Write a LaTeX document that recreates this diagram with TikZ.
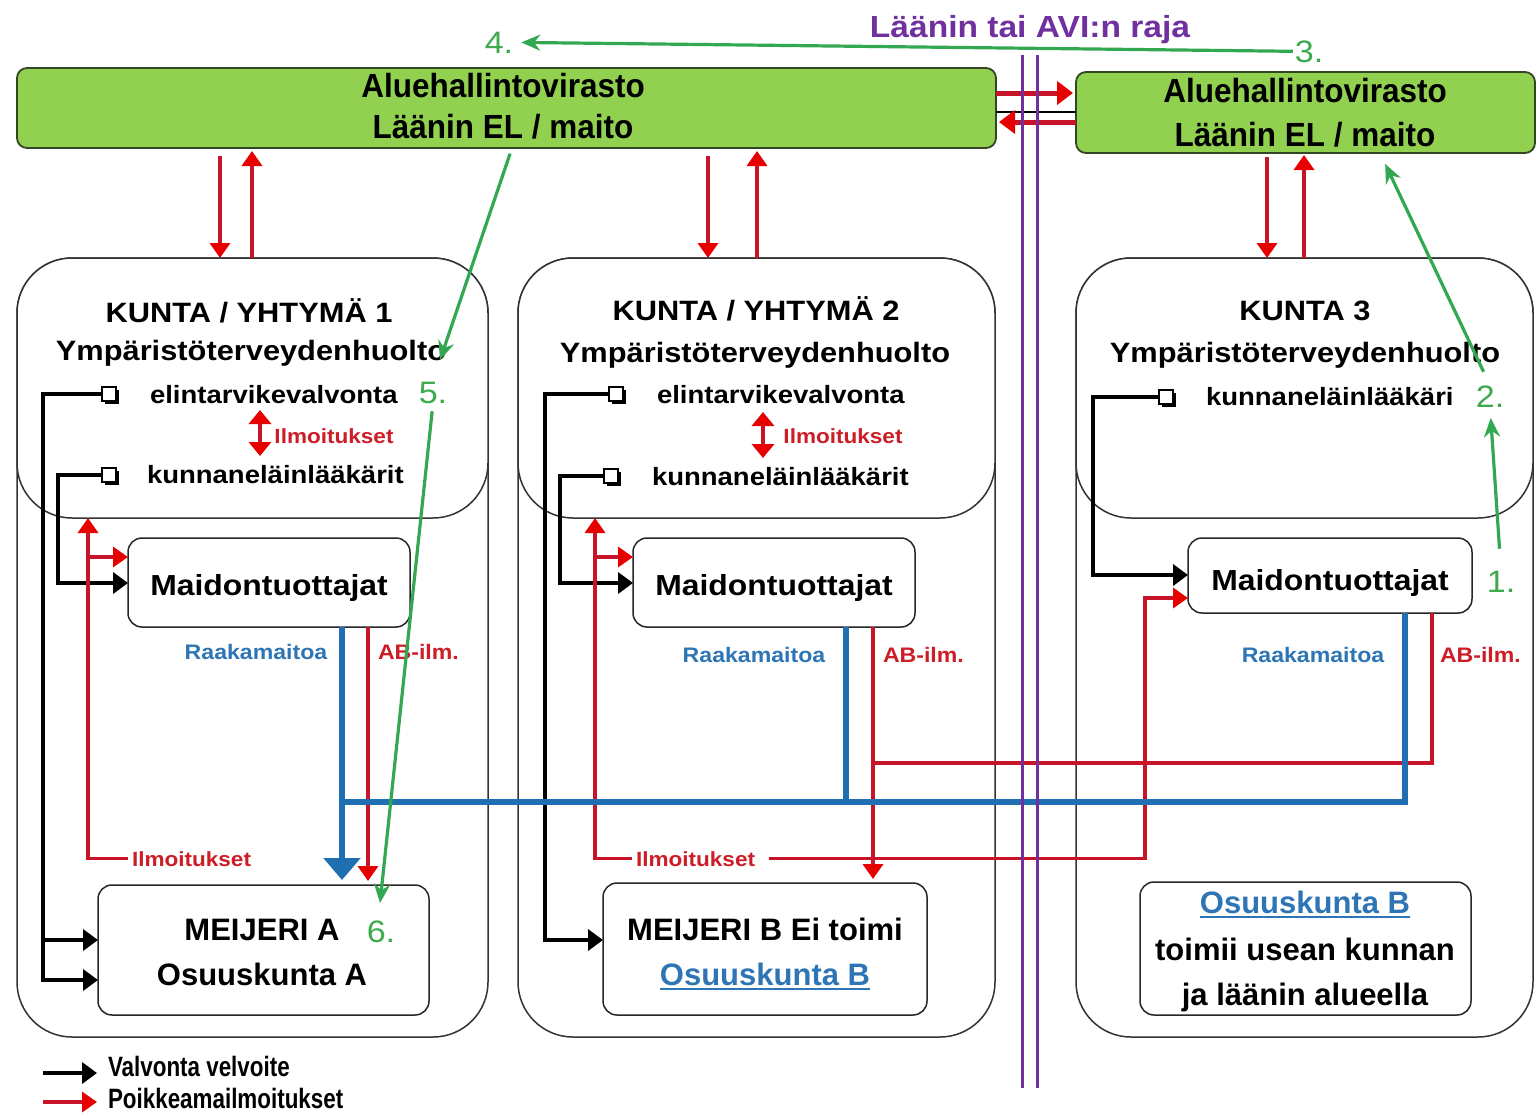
\documentclass[tikz,border=0pt]{standalone}
\usepackage{fontspec}
\setmainfont{Liberation Sans}
\newfontfamily\fW{Liberation Sans}[FakeStretch=1.1]
\newfontfamily\fN{Liberation Sans}[FakeStretch=0.94]
\newfontfamily\fL{Liberation Sans}[FakeStretch=0.8]
\newfontfamily\fM{Liberation Sans}
\usetikzlibrary{arrows.meta,shadows,calc}
\definecolor{gfill}{RGB}{146,208,80}
\definecolor{gdraw}{RGB}{50,70,35}
\definecolor{rline}{RGB}{200,20,40}
\definecolor{rhead}{RGB}{230,0,0}
\definecolor{bline}{RGB}{31,111,178}
\definecolor{grn}{RGB}{51,168,82}
\definecolor{gtxt}{RGB}{61,170,78}
\definecolor{purp}{RGB}{112,48,160}
\definecolor{rtxt}{RGB}{205,30,40}
\definecolor{btxt}{RGB}{46,117,182}
\newcommand\fsz[1]{\fontsize{#1}{#1}\selectfont}
\newcommand\myul[1]{\leavevmode\setbox0\hbox{#1}\rlap{\rule[-5pt]{\wd0}{2pt}}\box0}
\tikzset{
  gbox/.style={draw=gdraw, fill=gfill, line width=1.8pt, rounded corners=10pt, inner sep=0, outer sep=0},
  kbox/.style={draw=black!80, fill=white, line width=1.5pt, rounded corners=55pt, inner sep=0, outer sep=0},
  ibox/.style={draw=black!85, fill=white, line width=1.5pt, rounded corners=14pt, inner sep=0, outer sep=0},
  chk/.style={draw=black, fill=white, line width=1.6pt, minimum size=14pt, inner sep=0, outer sep=0,
    drop shadow={shadow xshift=3pt, shadow yshift=-3pt, fill=black, opacity=1}},
  txt/.style={inner sep=0, outer sep=0, anchor=base},
  tW/.style={txt, font={\fW\bfseries\fsz{#1}}},
  tN/.style={txt, font={\fN\bfseries\fsz{#1}}},
  tM/.style={txt, font={\fM\bfseries\fsz{#1}}},
  tR/.style={txt, font={\fW\fsz{#1}}},
  tL/.style={txt, font={\fL\bfseries\fsz{#1}}},
  blk/.style={draw=black, line width=4pt, -{Triangle[length=15pt,width=21pt]}},
  rd/.style={draw=rline, line width=3.5pt, -{Triangle[length=15pt,width=20pt,color=rhead]}},
  rdd/.style={draw=rline, line width=4pt, {Triangle[length=14pt,width=22pt,color=rhead]}-{Triangle[length=14pt,width=22pt,color=rhead]}},
  rdw/.style={draw=rline, line width=5pt, -{Triangle[length=16pt,width=23pt,color=rhead]}},
  rdl/.style={draw=rline, line width=3.5pt},
  bl/.style={draw=bline, line width=5.5pt},
  gr/.style={draw=grn, line width=3.2pt, -{Stealth[length=19pt,width=16pt]}},
  pl/.style={draw=purp, line width=3pt}
}
\begin{document}
\begin{tikzpicture}[x=1pt,y=-1pt]
\useasboundingbox (0,0) rectangle (1539,1117);
\fill[white] (0,0) rectangle (1539,1117);

% regional offices
\node[gbox, minimum width=979pt, minimum height=80pt] (avi1) at (506.5,108) {};
\node[gbox, minimum width=459pt, minimum height=81pt] (avi2) at (1305.5,112.5) {};
\node[tN=33.5] (t1a) at (503,97) {Aluehallintovirasto};
\node[tN=33.5] (t1b) at (503,138) {Läänin EL / maito};
\node[tN=33.5] (t2a) at (1305,102) {Aluehallintovirasto};
\node[tN=33.5] (t2b) at (1305,146) {Läänin EL / maito};
\node[tW=30.5, text=purp] (ttl) at (1030,37) {Läänin tai AVI:n raja};
\node[tR=31, text=gtxt] (n4) at (499,53) {4.};
\node[tR=31, text=gtxt] (n3) at (1309,62) {3.};

% municipality boxes
\node[kbox, minimum width=471pt, minimum height=779pt] (k1) at (252.5,647.5) {};
\node[kbox, minimum width=471pt, minimum height=260pt] (k1t) at (252.5,388) {};
\node[kbox, minimum width=477pt, minimum height=779pt] (k2) at (756.5,647.5) {};
\node[kbox, minimum width=477pt, minimum height=260pt] (k2t) at (756.5,388) {};
\node[kbox, minimum width=457pt, minimum height=779pt] (k3) at (1304.5,647.5) {};
\node[kbox, minimum width=457pt, minimum height=260pt] (k3t) at (1304.5,388) {};

% inner boxes
\node[ibox, minimum width=282pt, minimum height=89pt] (m1) at (269,582.5) {};
\node[ibox, minimum width=282pt, minimum height=89pt] (m2) at (774,582.5) {};
\node[ibox, minimum width=284pt, minimum height=75pt] (m3) at (1330,575.5) {};
\node[ibox, minimum width=331pt, minimum height=130pt] (meiA) at (263.5,950) {};
\node[ibox, minimum width=324pt, minimum height=132pt] (meiB) at (765,949) {};
\node[ibox, minimum width=331pt, minimum height=133pt] (osB) at (1305.5,948.5) {};

% checkboxes
\node[chk] (c1a) at (109,394) {};
\node[chk] (c1b) at (109,475) {};
\node[chk] (c2a) at (616,394) {};
\node[chk] (c2b) at (611,476) {};
\node[chk] (c3a) at (1166,397) {};

% texts kunta 1
\node[tW=28] (k1a) at (249,322) {KUNTA / YHTYMÄ 1};
\node[tW=28] (k1b) at (251,360) {Ympäristöterveydenhuolto};
\node[tW=25, anchor=base west] (k1c) at (150,403) {elintarvikevalvonta};
\node[tW=25, anchor=base west] (k1d) at (147,483) {kunnaneläinlääkärit};
\node[tW=20.5, text=rtxt] (il1a) at (334,443) {Ilmoitukset};
\node[tR=31, text=gtxt] (n5) at (433,403) {5.};
\node[tW=29] (m1t) at (269,595) {Maidontuottajat};
\node[tW=21, text=btxt] (r1) at (256,659) {Raakamaitoa};
\node[tW=21, text=rtxt, anchor=base west] (ab1) at (378,659) {AB-ilm.};
\node[tW=20.5, text=rtxt, anchor=base west] (il1b) at (132,866) {Ilmoitukset};
\node[tM=31] (meA1) at (262,940) {MEIJERI A};
\node[tM=31] (meA2) at (262,985) {Osuuskunta A};
\node[tR=31, text=gtxt] (n6) at (381,942) {6.};

% texts kunta 2
\node[tW=28] (k2a) at (756,320) {KUNTA / YHTYMÄ 2};
\node[tW=28] (k2b) at (755,362) {Ympäristöterveydenhuolto};
\node[tW=25, anchor=base west] (k2c) at (657,403) {elintarvikevalvonta};
\node[tW=25, anchor=base west] (k2d) at (652,485) {kunnaneläinlääkärit};
\node[tW=20.5, text=rtxt] (il2a) at (843,443) {Ilmoitukset};
\node[tW=29] (m2t) at (774,595) {Maidontuottajat};
\node[tW=21, text=btxt] (r2) at (754,662) {Raakamaitoa};
\node[tW=21, text=rtxt, anchor=base west] (ab2) at (883,662) {AB-ilm.};
\node[tW=20.5, text=rtxt, anchor=base west] (il2b) at (636,866) {Ilmoitukset};
\node[tM=31] (meB1) at (765,940) {MEIJERI B Ei toimi};
\node[tM=31, text=btxt] (meB2) at (765,985) {\myul{Osuuskunta B}};

% texts kunta 3
\node[tW=28] (k3a) at (1305,320) {KUNTA 3};
\node[tW=28] (k3b) at (1305,362) {Ympäristöterveydenhuolto};
\node[tW=25, anchor=base west] (k3c) at (1206,405) {kunnaneläinlääkäri};
\node[tR=31, text=gtxt] (n2) at (1490,407) {2.};
\node[tW=29] (m3t) at (1330,590) {Maidontuottajat};
\node[tR=31, text=gtxt] (n1) at (1501,592) {1.};
\node[tW=21, text=btxt] (r3) at (1313,662) {Raakamaitoa};
\node[tW=21, text=rtxt, anchor=base west] (ab3) at (1440,662) {AB-ilm.};
\node[tM=31, text=btxt] (os1) at (1305,913) {\myul{Osuuskunta B}};
\node[tM=31] (os2) at (1305,960) {toimii usean kunnan};
\node[tM=31] (os3) at (1305,1005) {ja läänin alueella};

% black supervision arrows
\draw[blk] (c1a.west) -| (43,980) -- (meiA.west |- 0,980);
\draw[blk] (43,940) -- (meiA.west |- 0,940);
\draw[blk] (c1b.west) -| (58,583) -- (m1.west |- 0,583);
\draw[blk] (c2a.west) -| (545,940) -- (meiB.west |- 0,940);
\draw[blk] (c2b.west) -| (560,583) -- (m2.west |- 0,583);
\draw[blk] (c3a.west) -| (1093,575) -- (m3.west |- 0,575);

% red arrows office <-> kunta
\draw[rd, shorten <=8pt] (avi1.south -| 220,0) -- (k1t.north -| 220,0);
\draw[rd, shorten >=3pt] (k1t.north -| 252,0) -- (avi1.south -| 252,0);
\draw[rd, shorten <=8pt] (avi1.south -| 708,0) -- (k2t.north -| 708,0);
\draw[rd, shorten >=3pt] (k2t.north -| 757,0) -- (avi1.south -| 757,0);
\draw[rd, shorten <=4pt] (avi2.south -| 1267,0) -- (k3t.north -| 1267,0);
\draw[rd, shorten >=2pt] (k3t.north -| 1304,0) -- (avi2.south -| 1304,0);

% between offices
\draw[black, line width=2.2pt] (avi1.east |- 0,112) -- (avi2.west |- 0,112);
\draw[rdw, shorten >=3pt] (avi1.east |- 0,93) -- (avi2.west |- 0,93);
\draw[rdw, shorten >=3pt] (avi2.west |- 0,122) -- (avi1.east |- 0,122);

% inner red double arrows
\coordinate (d1a) at (260,410); \coordinate (d1b) at (260,456);
\coordinate (d2a) at (763,412); \coordinate (d2b) at (763,458);
\draw[rdd] (d1a) -- (d1b);
\draw[rdd] (d2a) -- (d2b);

% red notifications
\draw[rd, shorten <=4pt] (il1b.west) -| (k1t.south -| 88,0);
\draw[rd] (88,557) -- (m1.west |- 0,557);
\draw[rd, shorten >=4pt] (m1.south -| 368,0) -- (meiA.north -| 368,0);
\draw[rd, shorten <=4pt] (il2b.west) -| (k2t.south -| 595,0);
\draw[rd] (595,557) -- (m2.west |- 0,557);
\draw[rd, shorten >=4pt] (m2.south -| 873,0) -- (meiB.north -| 873,0);
\draw[rdl] (m3.south -| 1432,0) |- (873,763);
\draw[rd, shorten <=14pt] (il2b.east) -| (1145,598) -- (m3.west |- 0,598);

% blue raw milk
\draw[bl] (m3.south -| 1405,0) |- (342,802);
\draw[bl] (m2.south -| 846,0) -- (846,802);
\draw[bl, -{Triangle[length=22pt,width=36pt]}, shorten >=5pt] (m1.south -| 342,0) -- (meiA.north -| 342,0);

% border lines
\coordinate (p1a) at (1022,55); \coordinate (p1b) at (1022,1088);
\coordinate (p2a) at (1037,55); \coordinate (p2b) at (1037,1088);
\draw[pl] (p1a) -- (p1b);
\draw[pl] (p2a) -- (p2b);

% green process arrows
\coordinate (g5) at (440,360);
\coordinate (g6) at (380,903);
\draw[gr, shorten <=2pt, shorten >=8pt] (n3.west) -- (n4.east);
\draw[gr, shorten <=6pt] (avi1.south -| 512,0) -- (g5);
\draw[gr, shorten <=8pt] (n5.south) -- (g6);
\draw[gr, shorten <=22pt, shorten >=11pt] (n1.north) -- (n2.south);
\draw[gr, shorten <=15pt, shorten >=12pt] (n2.north) -- (avi2.south -| 1380,0);

% legend
\coordinate (l1a) at (43,1073); \coordinate (l1b) at (97,1073);
\coordinate (l2a) at (43,1102); \coordinate (l2b) at (97,1102);
\draw[blk] (l1a) -- (l1b);
\draw[rd] (l2a) -- (l2b);
\node[tL=28, anchor=base west] (lg1) at (108,1076) {Valvonta velvoite};
\node[tL=28, anchor=base west] (lg2) at (108,1108) {Poikkeamailmoitukset};
\end{tikzpicture}
\end{document}
